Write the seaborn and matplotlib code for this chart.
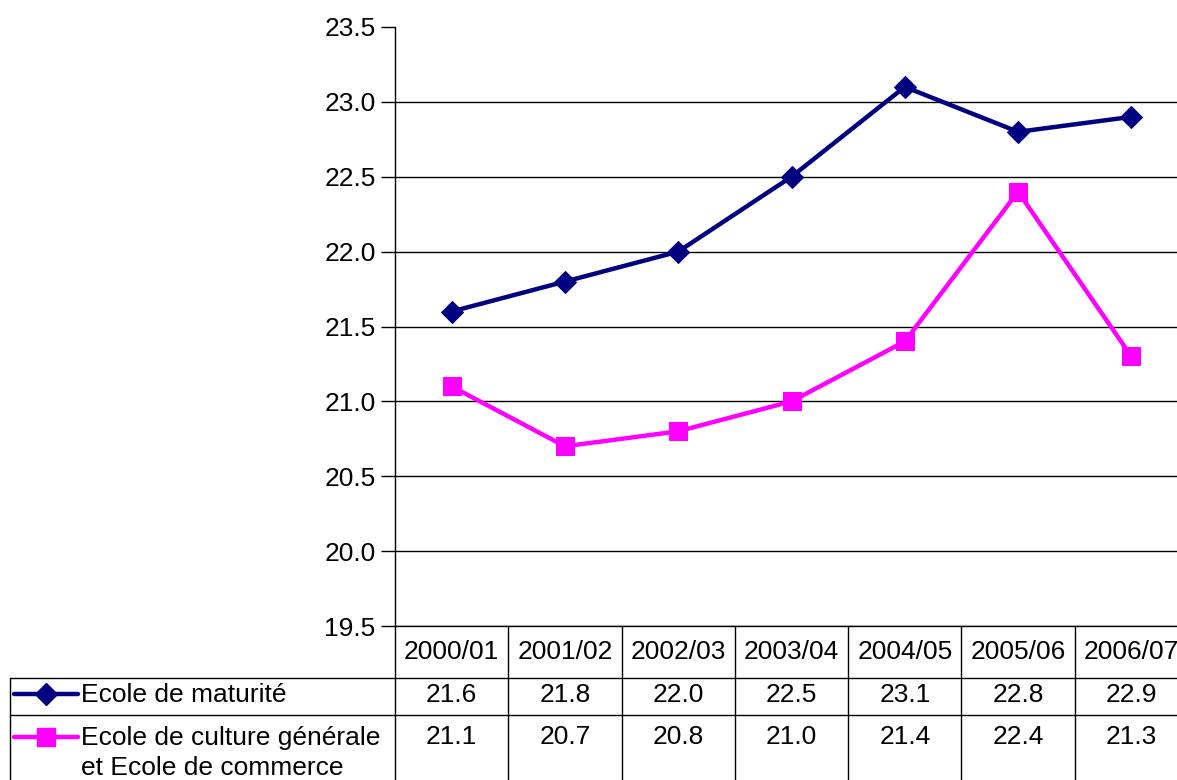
import numpy as np
import pandas as pd
import matplotlib
matplotlib.use("Agg")
import matplotlib.pyplot as plt
import matplotlib.transforms as mtransforms
from matplotlib.lines import Line2D
import seaborn as sns

seasons = ["2000/01", "2001/02", "2002/03", "2003/04", "2004/05", "2005/06", "2006/07"]
maturite = [21.6, 21.8, 22.0, 22.5, 23.1, 22.8, 22.9]
culture = [21.1, 20.7, 20.8, 21.0, 21.4, 22.4, 21.3]
series_names = ["Ecole de maturité", "Ecole de culture générale", "et Ecole de commerce"]
y_ticks = [19.5, 20.0, 20.5, 21.0, 21.5, 22.0, 22.5, 23.0, 23.5]

sns.set_theme(style="white")
plt.rcParams['font.family'] = ['Liberation Sans', 'DejaVu Sans']
plt.rcParams['text.color'] = "black"
plt.rcParams['ytick.color'] = "black"

navy = "#000080"
magenta = "#FF00FF"
fs = 19

df = pd.DataFrame({"season": np.arange(len(seasons)), "maturite": maturite, "culture": culture})

fig = plt.figure(figsize=(11.77, 7.80), dpi=100)
W, H = 1177, 780
ax = fig.add_axes([395 / W, 1 - 626 / H, 793 / W, (626 - 27) / H])

sns.lineplot(data=df, x="season", y="maturite", ax=ax, color=navy, lw=3.2,
             marker="D", markersize=11, markeredgecolor=navy, clip_on=False)
sns.lineplot(data=df, x="season", y="culture", ax=ax, color=magenta, lw=3.2,
             marker="s", markersize=13, markeredgecolor=magenta, clip_on=False)

ax.set_xlim(-0.5, len(seasons) - 0.5)
ax.set_ylim(19.5, 23.5)
ax.set_yticks(y_ticks)
ax.set_yticklabels([f"{v:.1f}" for v in y_ticks], fontsize=fs, color="black")
ax.set_xticks([])
ax.set_xlabel("")
ax.set_ylabel("")
ax.yaxis.grid(True, color="black", lw=1)
ax.get_ygridlines()[-1].set_visible(False)
ax.tick_params(axis="y", direction="out", length=10, width=1, color="black", pad=4, left=True)
for side in ["top", "right"]:
    ax.spines[side].set_visible(False)
for side in ["left", "bottom"]:
    ax.spines[side].set_color("black")
    ax.spines[side].set_linewidth(1)

# data table below the plot
bt = mtransforms.blended_transform_factory(ax.transData, fig.transFigure)
y_axis = 1 - 626 / H
y_row1 = 1 - 678 / H
y_row2 = 1 - 715 / H
x_left = 10 / W

for k in range(len(seasons) + 1):
    fig.add_artist(Line2D([k - 0.5, k - 0.5], [0, y_axis], transform=bt, color="black", lw=1))
for yy in [y_row1, y_row2]:
    fig.add_artist(Line2D([x_left, 1.0], [yy, yy], transform=fig.transFigure, color="black", lw=1))
fig.add_artist(Line2D([x_left, x_left], [0, y_row1], transform=fig.transFigure, color="black", lw=1))

for i, s in enumerate(seasons):
    fig.text(i, 1 - 652 / H, s, transform=bt, ha="center", va="center", fontsize=fs)
    fig.text(i, 1 - 695 / H, f"{maturite[i]:.1f}", transform=bt, ha="center", va="center", fontsize=fs)
    fig.text(i, 1 - 737 / H, f"{culture[i]:.1f}", transform=bt, ha="center", va="center", fontsize=fs)

# legend keys in the table
fig.add_artist(Line2D([14 / W, 46 / W, 78 / W], [1 - 694 / H] * 3, transform=fig.transFigure,
                      color=navy, lw=3.2, marker="D", markersize=11, markevery=[1],
                      markeredgecolor=navy))
fig.add_artist(Line2D([14 / W, 46 / W, 78 / W], [1 - 737 / H] * 3, transform=fig.transFigure,
                      color=magenta, lw=3.2, marker="s", markersize=13, markevery=[1],
                      markeredgecolor=magenta))
fig.text(81 / W, 1 - 695 / H, series_names[0], ha="left", va="center", fontsize=fs)
fig.text(81 / W, 1 - 738 / H, series_names[1], ha="left", va="center", fontsize=fs)
fig.text(81 / W, 1 - 768 / H, series_names[2], ha="left", va="center", fontsize=fs)

fig.savefig("out.png", dpi=100)
